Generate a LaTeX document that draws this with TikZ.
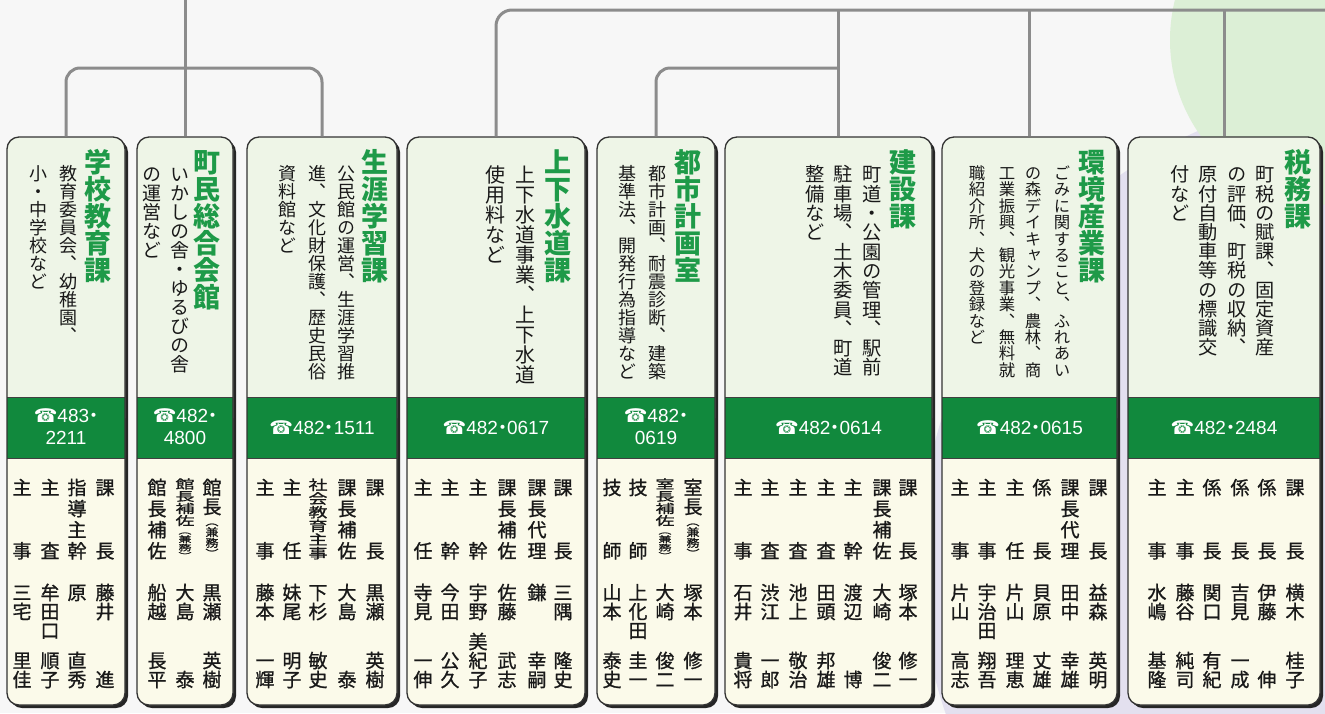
\documentclass[tikz,border=0pt]{standalone}
\usepackage{fontspec}
\usepackage{graphicx}
\usetikzlibrary{fit}
\newfontfamily\vjp[RawFeature=+vert]{Noto Sans CJK JP}
\newfontfamily\vjpm[RawFeature=+vert,FakeBold=1]{Noto Sans CJK JP}
\newfontfamily\jp{Noto Sans CJK JP}
\newfontfamily\phf{Liberation Sans}
\newfontfamily\sym{DejaVu Sans}
\definecolor{bg}{HTML}{F7F7F7}
\definecolor{circg}{HTML}{DCEFD6}
\definecolor{lav}{HTML}{E3E0EF}
\definecolor{connc}{HTML}{8C8C8C}
\definecolor{topc}{HTML}{EEF5E7}
\definecolor{cream}{HTML}{FBFAEA}
\definecolor{bandc}{HTML}{11893D}
\definecolor{ttlg}{HTML}{1E9A48}
\makeatletter
\newcommand\vchar[1]{\hbox to 1em{\hss\smash{#1}\hss\vrule height .88em depth .12em width 0pt}}
\newcommand\vtext[1]{\vbox{\offinterlineskip\@tfor\vch:=#1\do{\vchar{\vch}}}}
\newcommand\vspread[2]{\vbox to #2{\offinterlineskip\@tfor\vch:=#1\do{\vchar{\vch}\vfill}\unskip}}
\makeatother
\tikzset{
  vt/.style={inner sep=0pt, outer sep=0pt},
  ttl/.style={vt, anchor=north, text=ttlg, font=\vjp\bfseries\fontsize{27}{27}\selectfont},
  dsc/.style={vt, anchor=north, text=black!90},
  stf/.style={vt, text=black!90, font=\vjpm\fontsize{19}{19}\selectfont},
  phone/.style={text=white, font=\phf\fontsize{19}{22}\selectfont, align=center, inner sep=0pt},
  cnx/.style={draw=connc, line width=3pt},
  frame/.style={draw=black!80, line width=1.3pt, rounded corners=12pt, inner sep=0pt},
}
\newcommand\card[3]{%
  \fill[black!85, rounded corners=12pt] (#2+3,140) rectangle (#3+3,708);
  \fill[cream, rounded corners=12pt] (#2,137) rectangle (#3,705);
  \fill[topc, rounded corners=12pt] (#2,137) rectangle (#3,430);
  \fill[bandc] (#2,397) rectangle (#3,458);
  \draw[black!75, line width=1pt] (#2,397) -- (#3,397) (#2,458) -- (#3,458);
  \node[frame, fit={(#2,137) (#3,705)}] (#1) {};}
\newcommand\ttl[3]{\node[ttl] (#1) at (#2,149) {\vtext{#3}};}
\newcommand\dsc[4]{\node[dsc, font=\vjp\fontsize{#3}{#3}\selectfont] (#1) at (#2,165) {\vtext{#4}};}
\newcommand\vp[1]{\vspread{#1}{80pt}}
\newcommand\stf[5]{%
  \node[stf, anchor=north] (#1p) at (#2,478) {#3};
  \node[stf, anchor=north] (#1s) at (#2,583) {\vtext{#4}};
  \node[stf, anchor=south] (#1g) at (#2,689) {\vtext{#5}};}
\newcommand\sqz[1]{\resizebox*{\width}{82pt}{\vtext{#1}}}
\newcommand\kenmu{\hbox to 19pt{\hss\fontsize{13}{13}\selectfont\vtext{（兼務）}\hss}}
\newcommand\chokenmu[1]{\vbox{\offinterlineskip\vtext{#1}\hbox to 19pt{\hss\resizebox*{\width}{43pt}{\kenmu}\hss}}}
\newcommand\hokenmu[1]{\resizebox*{\width}{82pt}{\vbox{\offinterlineskip\vtext{#1}\kenmu}}}
\newcommand\pd{\makebox[9pt]{\jp ・}}
\newcommand\tel{{\sym ☎}}
\begin{document}
\begin{tikzpicture}[x=1pt,y=-1pt]
\useasboundingbox (0,0) rectangle (1325,713);
\fill[bg] (0,0) rectangle (1325,713);
\begin{scope}
  \clip (0,0) rectangle (1325,713);
  \fill[lav] (1390,560) circle (470);
  \fill[circg] (1335,40) circle (165);
\end{scope}
% cards
\card{c1}{7}{125}
\card{c2}{137}{233}
\card{c3}{247}{397}
\card{c4}{407}{585}
\card{c5}{597}{715}
\card{c6}{725}{932}
\card{c7}{942}{1117}
\card{c8}{1128}{1320}
% connectors
\coordinate (top1) at (185,0);
\coordinate (j1) at (185,68);
\draw[cnx] (top1) -- (c2.north);
\draw[cnx, rounded corners=14pt] (c1.north) |- (j1) -| (c3.north);
\coordinate (top2) at (1325,10);
\coordinate (j2) at (838,10);
\coordinate (j3) at (838,68);
\draw[cnx, rounded corners=16pt] (c4.north) |- (top2);
\draw[cnx] (j2) -- (j2 |- c6.north);
\draw[cnx, rounded corners=14pt] (c5.north) |- (j3);
\draw[cnx] (c7.north) -- (c7.north |- top2);
\draw[cnx] (c8.north) -- (c8.north |- top2);
% titles and descriptions
\ttl{t1}{98}{学校教育課}
\dsc{d1a}{68}{18}{教育委員会、幼稚園、}
\dsc{d1b}{38}{18}{小・中学校など}
\ttl{t2}{207}{町民総合会館}
\dsc{d2a}{180}{19}{いかしの舎・ゆるびの舎}
\dsc{d2b}{152}{19}{の運営など}
\ttl{t3}{375}{生涯学習課}
\dsc{d3a}{346}{18}{公民館の運営、生涯学習推}
\dsc{d3b}{317}{18}{進、文化財保護、歴史民俗}
\dsc{d3c}{287}{18}{資料館など}
\ttl{t4}{558}{上下水道課}
\dsc{d4a}{525}{20}{上下水道事業、上下水道}
\dsc{d4b}{495}{20}{使用料など}
\ttl{t5}{688}{都市計画室}
\dsc{d5a}{657}{18}{都市計画、耐震診断、建築}
\dsc{d5b}{627}{18}{基準法、開発行為指導など}
\ttl{t6}{903}{建設課}
\dsc{d6a}{872}{19.3}{町道・公園の管理、駅前}
\dsc{d6b}{843}{19.3}{駐車場、土木委員、町道}
\dsc{d6c}{815}{19.3}{整備など}
\ttl{t7}{1092}{環境産業課}
\dsc{d7a}{1062}{16.4}{ごみに関すること、ふれあい}
\dsc{d7b}{1033}{16.4}{の森デイキャンプ、農林、商}
\dsc{d7c}{1007}{16.4}{工業振興、観光事業、無料就}
\dsc{d7d}{977}{16.4}{職紹介所、犬の登録など}
\ttl{t8}{1298}{税務課}
\dsc{d8a}{1265}{19.2}{町税の賦課、固定資産}
\dsc{d8b}{1237}{19.2}{の評価、町税の収納、}
\dsc{d8c}{1208}{19.2}{原付自動車等の標識交}
\dsc{d8d}{1180}{19.2}{付など}
% phones
\node[phone] (ph1) at (66,427) {\tel483\pd\\2211};
\node[phone] (ph2) at (185,427) {\tel482\pd\\4800};
\node[phone] (ph3) at (322,428) {\tel482\pd1511};
\node[phone] (ph4) at (496,428) {\tel482\pd0617};
\node[phone] (ph5) at (656,427) {\tel482\pd\\0619};
\node[phone] (ph6) at (828.5,428) {\tel482\pd0614};
\node[phone] (ph7) at (1029.5,428) {\tel482\pd0615};
\node[phone] (ph8) at (1224,428) {\tel482\pd2484};
% staff
\stf{s1a}{105}{\vp{課長}}{藤井}{進}
\stf{s1b}{77}{\vp{指導主幹}}{原}{直秀}
\stf{s1c}{50}{\vp{主査}}{牟田口}{順子}
\stf{s1d}{22}{\vp{主事}}{三宅}{里佳}
\stf{s2a}{212}{\chokenmu{館長}}{黒瀬}{英樹}
\stf{s2b}{185}{\hokenmu{館長補佐}}{大島}{泰}
\stf{s2c}{157}{\vp{館長補佐}}{船越}{長平}
\stf{s3a}{375}{\vp{課長}}{黒瀬}{英樹}
\stf{s3b}{347}{\vp{課長補佐}}{大島}{泰}
\stf{s3c}{318}{\sqz{社会教育主事}}{下杉}{敏史}
\stf{s3d}{292}{\vp{主任}}{妹尾}{明子}
\stf{s3e}{265}{\vp{主事}}{藤本}{一輝}
\stf{s4a}{563}{\vp{課長}}{三隅}{隆史}
\stf{s4b}{537}{\vp{課長代理}}{鎌}{幸嗣}
\stf{s4c}{507}{\vp{課長補佐}}{佐藤}{武志}
\stf{s4d}{478}{\vp{主幹}}{宇野}{美紀子}
\stf{s4e}{450}{\vp{主幹}}{今田}{公久}
\stf{s4f}{423}{\vp{主任}}{寺見}{一伸}
\stf{s5a}{693}{\chokenmu{室長}}{塚本}{修一}
\stf{s5b}{665}{\hokenmu{室長補佐}}{大崎}{俊二}
\stf{s5c}{638}{\vp{技師}}{上化田}{圭一}
\stf{s5d}{612}{\vp{技師}}{山本}{泰史}
\stf{s6a}{908}{\vp{課長}}{塚本}{修一}
\stf{s6b}{882}{\vp{課長補佐}}{大崎}{俊二}
\stf{s6c}{853}{\vp{主幹}}{渡辺}{博}
\stf{s6d}{826}{\vp{主査}}{田頭}{邦雄}
\stf{s6e}{798}{\vp{主査}}{池上}{敬治}
\stf{s6f}{770}{\vp{主査}}{渋江}{一郎}
\stf{s6g}{743}{\vp{主事}}{石井}{貴将}
\stf{s7a}{1098}{\vp{課長}}{益森}{英明}
\stf{s7b}{1070}{\vp{課長代理}}{田中}{幸雄}
\stf{s7c}{1042}{\vp{係長}}{貝原}{丈雄}
\stf{s7d}{1015}{\vp{主任}}{片山}{理恵}
\stf{s7e}{987}{\vp{主事}}{宇治田}{翔吾}
\stf{s7f}{960}{\vp{主事}}{片山}{高志}
\stf{s8a}{1295}{\vp{課長}}{横木}{桂子}
\stf{s8b}{1267}{\vp{係長}}{伊藤}{伸}
\stf{s8c}{1240}{\vp{係長}}{吉見}{一成}
\stf{s8d}{1212}{\vp{係長}}{関口}{有紀}
\stf{s8e}{1185}{\vp{主事}}{藤谷}{純司}
\stf{s8f}{1157}{\vp{主事}}{水嶋}{基隆}
\end{tikzpicture}
\end{document}
